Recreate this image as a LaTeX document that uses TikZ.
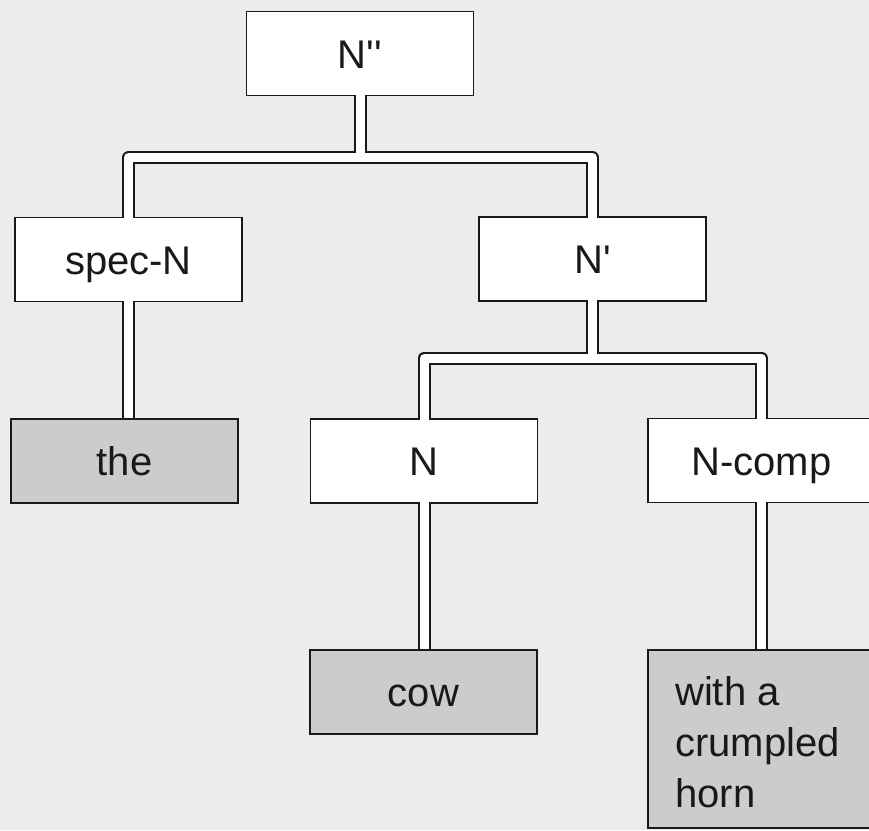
\documentclass[tikz,border=0pt]{standalone}
\usepackage{fontspec}
\setmainfont{Liberation Sans}[Ligatures=TeXOff]
\begin{document}
\begin{tikzpicture}[x=1pt,y=-1pt,
  box/.style={draw=black!90, line width=1.8pt, fill=white, minimum width=227pt, minimum height=84pt,
    inner sep=0pt, outer sep=0pt, text height=29pt, text depth=0pt,
    font=\fontsize{40}{48}\selectfont, text=black!90},
  leaf/.style={box, fill=gray!40},
  pipeout/.style={line width=13pt, line join=round, draw=black!90},
  pipein/.style={line width=9pt, line join=round, draw=white},
]
\useasboundingbox (0,0) rectangle (869,830);
\clip (0,0) rectangle (869,830);
\fill[gray!15] (0,0) rectangle (869,830);

% boxes
\node[box]  (Npp)   at (360,53.5)  {N''};
\node[box]  (spec)  at (128.5,259.5) {spec-N};
\node[box]  (Np)    at (592.5,259)   {N'};
\node[leaf] (the)   at (124.5,461) {the};
\node[box]  (N)     at (424,461)   {N};
\node[box]  (Ncomp) at (761.5,460.5) {N-comp};
\node[leaf] (cow)   at (423.5,692) {cow};
\node[leaf, minimum height=178pt, anchor=north west] (horn) at (648,650) {};
\node[anchor=base west, align=left, font=\fontsize{40}{51}\selectfont, text=black!90, inner sep=0pt]
  (horntext) at (675,807) {with a\\crumpled\\horn};

% bar levels
\coordinate (b1) at (0,157.5);
\coordinate (b2) at (0,358);

% outer (black) pipes
\draw[pipeout] (Npp.south) -- (Npp.south |- b1);
\draw[pipeout] (spec.north) -- (spec.north |- b1) -- (Np.north |- b1) -- (Np.north);
\draw[pipeout] (spec.south) -- (spec.south |- the.north);
\draw[pipeout] (Np.south) -- (Np.south |- b2);
\draw[pipeout] (N.north) -- (N.north |- b2) -- (Ncomp.north |- b2) -- (Ncomp.north);
\draw[pipeout] (N.south) -- (N.south |- cow.north);
\draw[pipeout] (Ncomp.south) -- (Ncomp.south |- horn.north);

% inner (white) pipes
\draw[pipein, shorten <=-2pt] (Npp.south) -- (Npp.south |- b1);
\draw[pipein, shorten <=-2pt, shorten >=-2pt] (spec.north) -- (spec.north |- b1) -- (Np.north |- b1) -- (Np.north);
\draw[pipein, shorten <=-2pt, shorten >=1pt] (spec.south) -- (spec.south |- the.north);
\draw[pipein, shorten <=-2pt] (Np.south) -- (Np.south |- b2);
\draw[pipein, shorten <=-2pt, shorten >=-2pt] (N.north) -- (N.north |- b2) -- (Ncomp.north |- b2) -- (Ncomp.north);
\draw[pipein, shorten <=-2pt, shorten >=1pt] (N.south) -- (N.south |- cow.north);
\draw[pipein, shorten <=-2pt, shorten >=1pt] (Ncomp.south) -- (Ncomp.south |- horn.north);
\end{tikzpicture}
\end{document}
